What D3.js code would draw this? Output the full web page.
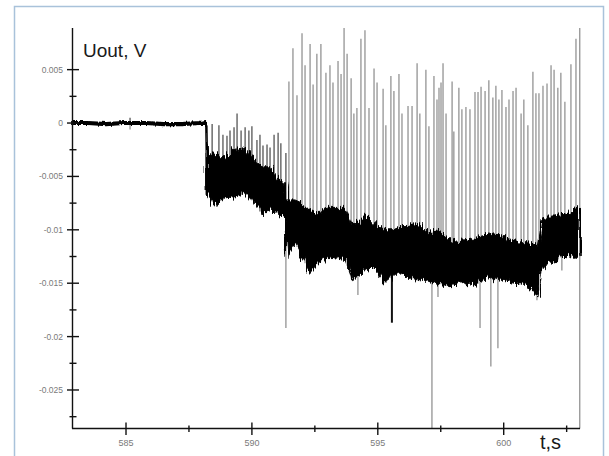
<!DOCTYPE html>
<html lang="en">
<head>
<meta charset="utf-8">
<title>Uout vs t</title>
<script src="https://d3js.org/d3.v7.min.js"></script>
<style type="text/css">
 body { margin: 0; background: #fff; }
 text { font-family: "Liberation Sans", Arial, sans-serif; }
</style>
</head>
<body>
<script type="text/javascript">
// Signal band: [t, upper, lower] in seconds / volts
var band = [
  [582.86, 0.0001, -0.0001], [583.5, 0.0001, -0.0001], [584.2, 0.0000, -0.0002],
  [584.9, 0.0001, -0.0001], [585.8, 0.0001, -0.0001], [586.5, 0.0000, -0.0002],
  [587.2, 0.0000, -0.0002], [587.9, 0.0001, -0.0001], [588.18, 0.0002, -0.0001],
  [588.22, -0.0028, -0.0065], [588.53, -0.0030, -0.0078], [588.93, -0.0032, -0.0070],
  [589.33, -0.0025, -0.0069], [589.73, -0.0023, -0.0066], [590.12, -0.0035, -0.0075],
  [590.40, -0.0041, -0.0086], [590.72, -0.0041, -0.0079], [591.04, -0.0051, -0.0084],
  [591.30, -0.0055, -0.0091], [591.39, -0.0072, -0.0125], [591.71, -0.0072, -0.0112],
  [591.99, -0.0075, -0.0126], [592.31, -0.0082, -0.0140], [592.62, -0.0084, -0.0131],
  [593.02, -0.0079, -0.0126], [593.30, -0.0079, -0.0126], [593.70, -0.0079, -0.0128],
  [593.97, -0.0094, -0.0147], [594.21, -0.0094, -0.0144], [594.49, -0.0084, -0.0138],
  [594.77, -0.0091, -0.0135], [595.01, -0.0097, -0.0140], [595.28, -0.0100, -0.0150],
  [595.56, -0.0100, -0.0144], [595.80, -0.0097, -0.0140], [596.20, -0.0097, -0.0144],
  [596.60, -0.0094, -0.0148], [596.99, -0.0103, -0.0146], [597.39, -0.0100, -0.0150],
  [597.79, -0.0108, -0.0153], [598.18, -0.0111, -0.0148], [598.54, -0.0110, -0.0150],
  [598.86, -0.0108, -0.0152], [599.18, -0.0106, -0.0148], [599.45, -0.0103, -0.0145],
  [599.85, -0.0105, -0.0147], [600.25, -0.0109, -0.0148], [600.53, -0.0111, -0.0150],
  [600.84, -0.0112, -0.0152], [601.16, -0.0113, -0.0157], [601.36, -0.0116, -0.0163],
  [601.52, -0.0090, -0.0138], [601.76, -0.0088, -0.0130], [602.04, -0.0088, -0.0131],
  [602.31, -0.0085, -0.0125], [602.55, -0.0084, -0.0125], [602.79, -0.0080, -0.0127],
  [603.00, -0.0079, -0.0125]
];

// Upward spikes: [t, peak]
var upSpikes = [
  [585.16, 0.0005],
  [588.22, -0.0002], [588.42, -0.0001], [588.69, -0.0002], [588.85, -0.0011], [589.01, -0.0012],
  [589.13, -0.0007], [589.29, -0.0004], [589.41, 0.0009], [589.57, -0.0007], [589.73, -0.0004],
  [589.88, -0.0007], [590.00, -0.0003], [590.20, -0.0016], [590.32, -0.0011], [590.44, -0.0021],
  [590.60, -0.0020], [590.72, -0.0023], [590.88, -0.0011], [591.04, -0.0009], [591.15, -0.0019],
  [591.35, -0.0028],
  [591.47, 0.0039], [591.63, 0.0070], [591.79, 0.0026], [591.99, 0.0084], [592.11, 0.0054],
  [592.31, 0.0074], [592.43, 0.0036], [592.58, 0.0065], [592.74, 0.0074], [592.94, 0.0047],
  [593.10, 0.0054], [593.22, 0.0038], [593.42, 0.0058], [593.54, 0.0046], [593.66, 0.0089],
  [593.78, 0.0065], [593.94, 0.0042], [594.05, 0.0009], [594.17, 0.0014], [594.33, 0.0079],
  [594.49, 0.0087], [594.65, 0.0014], [594.85, 0.0051], [594.97, 0.0038], [595.21, 0.0032],
  [595.32, -0.0002], [595.52, 0.0044], [595.64, 0.0030], [595.84, 0.0046], [595.96, 0.0009],
  [596.20, 0.0016], [596.36, 0.0016], [596.56, 0.0056], [596.67, 0.0009], [596.91, 0.0050],
  [597.03, -0.0003], [597.23, 0.0044], [597.35, 0.0022], [597.43, 0.0033], [597.51, 0.0038],
  [597.59, 0.0056], [597.71, 0.0009], [597.95, 0.0039], [598.02, -0.0008], [598.22, 0.0033],
  [598.34, 0.0013], [598.50, 0.0015], [598.66, 0.0013], [598.86, 0.0029], [598.98, 0.0029],
  [599.10, 0.0034], [599.26, 0.0030], [599.41, 0.0040], [599.57, 0.0024], [599.69, 0.0035],
  [599.81, 0.0022], [599.93, 0.0031], [600.09, 0.0015], [600.21, 0.0022], [600.37, 0.0030],
  [600.49, 0.0033], [600.69, 0.0009], [600.80, 0.0022], [600.96, -0.0002], [601.16, 0.0048],
  [601.28, 0.0028], [601.40, 0.0028], [601.56, 0.0035], [601.72, 0.0037], [601.88, 0.0054],
  [602.00, 0.0050], [602.15, 0.0033], [602.27, 0.0047], [602.43, 0.0020], [602.67, 0.0055],
  [602.87, 0.0079], [603.02, 0.0089]
];

// Downward spikes: [t, trough]
var downSpikes = [
  [585.16, -0.0006], [591.35, -0.0192], [594.21, -0.0161], [595.56, -0.0187],
  [597.15, -0.0286], [597.39, -0.0163], [599.06, -0.0192], [599.49, -0.0228],
  [599.77, -0.0211], [601.32, -0.0166], [602.31, -0.0138], [603.02, -0.0286]
];

var xTicks = [585, 590, 595, 600];
var xMinor = [587.5, 592.5, 597.5, 602.5];
var yTicks = [0.005, 0, -0.005, -0.01, -0.015, -0.02, -0.025];
var yMinor = [0.0025, -0.0025, -0.0075, -0.0125, -0.0175, -0.0225, -0.0275];

var width = 609, height = 456;

var svg = d3.select("body").append("svg")
            .attr("width", width)
            .attr("height", height);

// roughen the edges of the dense band (vertical jitter)
var defs = svg.append("defs");
function roughFilter(id, scale) {
  var f = defs.append("filter").attr("id", id)
     .attr("x", "-2%").attr("y", "-100%").attr("width", "104%").attr("height", "300%");
  f.append("feTurbulence")
     .attr("type", "fractalNoise").attr("baseFrequency", "0.6 0.03")
     .attr("numOctaves", 2).attr("seed", 3).attr("result", "n");
  f.append("feDisplacementMap")
     .attr("in", "SourceGraphic").attr("in2", "n")
     .attr("scale", scale).attr("xChannelSelector", "A").attr("yChannelSelector", "R");
}
roughFilter("rough", 12);
roughFilter("roughSmall", 3);

// frame
svg.append("rect")
   .attr("x", 14.5).attr("y", 6.5)
   .attr("width", 589).attr("height", 460)
   .attr("fill", "#fff")
   .attr("stroke", "#a9c2da")
   .attr("stroke-width", 1.5);

var x = d3.scaleLinear().domain([582.855, 603.03]).range([72, 580]);
var y = d3.scaleLinear().domain([-0.02856, 0.0089]).range([428, 28]);

// band value at t (for spike bases)
var bis = d3.bisector(function(d) { return d[0]; }).left;
function bandAt(t, k) {
  var i = Math.max(1, Math.min(band.length - 1, bis(band, t)));
  var a = band[i - 1], b = band[i];
  var f = Math.max(0, Math.min(1, (t - a[0]) / (b[0] - a[0])));
  return a[k] + (b[k] - a[k]) * f;
}

// spikes
svg.append("g").selectAll("line.up")
   .data(upSpikes).enter().append("line")
   .attr("x1", function(d) { return x(d[0]); })
   .attr("x2", function(d) { return x(d[0]); })
   .attr("y1", function(d) { return y(bandAt(d[0], 2)); })
   .attr("y2", function(d) { return y(d[1]); })
   .attr("stroke", function(d) { return d[0] < 591.4 ? "#555" : "#939393"; })
   .attr("stroke-width", 1.3);

svg.append("g").selectAll("line.down")
   .data(downSpikes).enter().append("line")
   .attr("x1", function(d) { return x(d[0]); })
   .attr("x2", function(d) { return x(d[0]); })
   .attr("y1", function(d) { return y(bandAt(d[0], 1)); })
   .attr("y2", function(d) { return y(d[1]); })
   .attr("stroke", function(d) { return d[0] === 595.56 ? "#111" : "#939393"; })
   .attr("stroke-width", function(d) { return d[0] === 595.56 ? 2 : 1.3; });

// dense signal band
var area = d3.area()
   .x(function(d) { return x(d[0]); })
   .y0(function(d) { return y(d[2]); })
   .y1(function(d) { return y(d[1]); });

svg.append("path")
   .datum(band.filter(function(d) { return d[0] >= 588.2; }))
   .attr("d", area)
   .attr("fill", "#000")
   .attr("stroke", "#000")
   .attr("stroke-width", 1)
   .attr("filter", "url(#rough)");

svg.append("path")
   .datum(band.filter(function(d) { return d[0] <= 588.22; }))
   .attr("d", area)
   .attr("fill", "#000")
   .attr("stroke", "#000")
   .attr("stroke-width", 2)
   .attr("filter", "url(#roughSmall)");

// axes
var axisColor = "#111";
svg.append("line")
   .attr("x1", 72.5).attr("x2", 72.5).attr("y1", 28).attr("y2", 428.5)
   .attr("stroke", axisColor).attr("stroke-width", 1.4);
svg.append("line")
   .attr("x1", 72).attr("x2", 580).attr("y1", 428.5).attr("y2", 428.5)
   .attr("stroke", axisColor).attr("stroke-width", 1.4);

svg.append("g").selectAll("line")
   .data(yTicks).enter().append("line")
   .attr("x1", 67).attr("x2", 79)
   .attr("y1", function(d) { return y(d); }).attr("y2", function(d) { return y(d); })
   .attr("stroke", axisColor).attr("stroke-width", 1.4);
svg.append("g").selectAll("line")
   .data(yMinor).enter().append("line")
   .attr("x1", 69.5).attr("x2", 76.5)
   .attr("y1", function(d) { return y(d); }).attr("y2", function(d) { return y(d); })
   .attr("stroke", axisColor).attr("stroke-width", 1.4);
svg.append("g").selectAll("text")
   .data(yTicks).enter().append("text")
   .attr("x", 63)
   .attr("y", function(d) { return y(d) + 3; })
   .attr("text-anchor", "end")
   .attr("font-size", 8.5)
   .attr("fill", "#7a7a7a")
   .text(function(d) { return d === 0 ? "0" : String(d); });

svg.append("g").selectAll("line")
   .data(xTicks).enter().append("line")
   .attr("x1", function(d) { return x(d); }).attr("x2", function(d) { return x(d); })
   .attr("y1", 422.5).attr("y2", 435)
   .attr("stroke", axisColor).attr("stroke-width", 1.4);
svg.append("g").selectAll("line")
   .data(xMinor).enter().append("line")
   .attr("x1", function(d) { return x(d); }).attr("x2", function(d) { return x(d); })
   .attr("y1", 425.5).attr("y2", 432)
   .attr("stroke", axisColor).attr("stroke-width", 1.4);
svg.append("g").selectAll("text")
   .data(xTicks).enter().append("text")
   .attr("x", function(d) { return x(d); })
   .attr("y", 446)
   .attr("text-anchor", "middle")
   .attr("font-size", 9)
   .attr("fill", "#7a7a7a")
   .text(function(d) { return d; });

// titles
svg.append("text")
   .attr("x", 83).attr("y", 56.5)
   .attr("font-size", 19)
   .attr("fill", "#1a1a1a")
   .text("Uout, V");
svg.append("text")
   .attr("x", 540).attr("y", 449)
   .attr("font-size", 20)
   .attr("fill", "#1a1a1a")
   .text("t,s");
</script>
</body>
</html>
